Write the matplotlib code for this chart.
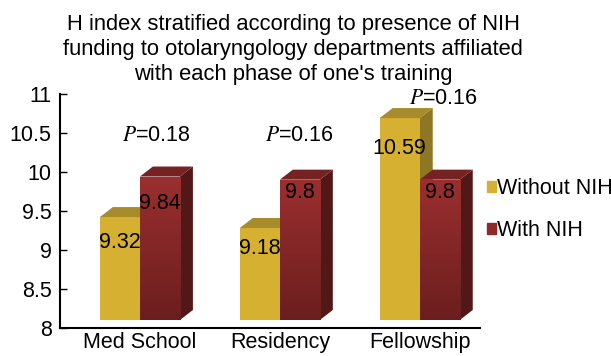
import numpy as np
import matplotlib
matplotlib.use("Agg")
import matplotlib.pyplot as plt
from matplotlib.patches import Polygon, Patch
from matplotlib.colors import LinearSegmentedColormap

plt.rcParams['font.family'] = ['Liberation Sans', 'DejaVu Sans']
plt.rcParams['mathtext.fontset'] = 'stix'

# ---- data ----
categories = ["Med School", "Residency", "Fellowship"]
without_nih = [9.32, 9.18, 10.59]
with_nih = [9.84, 9.8, 9.8]
p_values = ["0.18", "0.16", "0.16"]
series_names = ["Without NIH", "With NIH"]
title = ("H index stratified according to presence of NIH\n"
         "funding to otolaryngology departments affiliated\n"
         "with each phase of one's training")

# ---- style ----
front_cols = ["#D5B031", "#8E2A2A"]
top_cols = ["#A88B2A", "#762222"]
side_cols = ["#8F7624", "#521818"]
bar_w = 0.286
depth_px = (13, 10)
lift_px = 8
label_drop_px = [[25, 21, 30], [27, 13, 13]]
p_pos = [(0.114, 10.47), (1.143, 10.47), (2.171, 10.94)]
fs = 15.5

fig = plt.figure(figsize=(6.11, 3.56), dpi=100)
ax = fig.add_axes([0.0982, 0.0787, 0.687, 0.657])
ax.set_xlim(-0.571, 2.429)
ax.set_ylim(8, 11)

ax_w_px = 0.687 * 611
ax_h_px = 0.657 * 356
px_x = 3.0 / ax_w_px
px_y = 3.0 / ax_h_px
dx = depth_px[0] * px_x
dy = depth_px[1] * px_y
lift = lift_px * px_y

cm = LinearSegmentedColormap.from_list("g", ["#6C1E1E", "#9A2F2F"])

x = np.arange(len(categories))
series = [without_nih, with_nih]
for s, vals in enumerate(series):
    offs = (s - 0.5) * bar_w
    for i, v in enumerate(vals):
        xc = x[i] + offs
        x0, x1 = xc - bar_w / 2, xc + bar_w / 2
        b, t = 8 + lift, v + lift
        side = Polygon([(x1, b), (x1, t), (x1 + dx, t + dy), (x1 + dx, b + dy)],
                       closed=True, fc=side_cols[s], ec='none', zorder=2 + s * 3)
        ax.add_patch(side)
        bars = ax.bar([xc], [v - 8], bottom=8, width=bar_w, color=front_cols[s],
                      zorder=3 + s * 3)
        for r in bars:
            r.set_y(b)
            r.set_height(t - b)
            r.set_clip_on(False)
        if s == 1:
            grad = np.linspace(1, 0, 50).reshape(-1, 1)
            im = ax.imshow(grad, extent=(x0, x1, b, t), aspect='auto', cmap=cm,
                           origin='upper', zorder=3 + s * 3 + 0.5)
            im.set_clip_path(bars[0])
        top = Polygon([(x0, t), (x1, t), (x1 + dx, t + dy), (x0 + dx, t + dy)],
                      closed=True, fc=top_cols[s], ec='none', zorder=4 + s * 3,
                      clip_on=False)
        ax.add_patch(top)
        ax.text(xc, t - label_drop_px[s][i] * px_y, f"{v:g}", ha='center', va='center',
                fontsize=fs, zorder=20)

for (px, py), pv in zip(p_pos, p_values):
    ax.text(px, py, f"$P$=" + pv, ha='center', va='center', fontsize=fs, zorder=20)

ax.set_xlim(-0.571, 2.429)
ax.set_ylim(8, 11)
ax.set_xticks(x)
ax.set_xticklabels(categories, fontsize=fs)
yt = np.arange(8, 11.01, 0.5)
ax.set_yticks(yt)
ax.set_yticklabels([f"{t:g}" for t in yt], fontsize=fs)
ax.tick_params(axis='y', direction='in', length=5, width=1, pad=6)
ax.tick_params(axis='x', length=0, pad=3)
for sp in ['top', 'right']:
    ax.spines[sp].set_visible(False)
for sp in ['left', 'bottom']:
    ax.spines[sp].set_linewidth(1.5)

fig.text(0.480, 1 - 14 / 356, title, ha='center', va='top', fontsize=15.8,
         linespacing=1.25)

handles = [Patch(color=front_cols[0]), Patch(color=front_cols[1])]
fig.legend(handles, series_names, loc='center left', bbox_to_anchor=(0.797, 0.411),
           frameon=False, fontsize=fs, handlelength=0.4, handleheight=0.4,
           handletextpad=0.05, labelspacing=1.0, borderaxespad=0, borderpad=0)

fig.savefig("out.png", dpi=100)
